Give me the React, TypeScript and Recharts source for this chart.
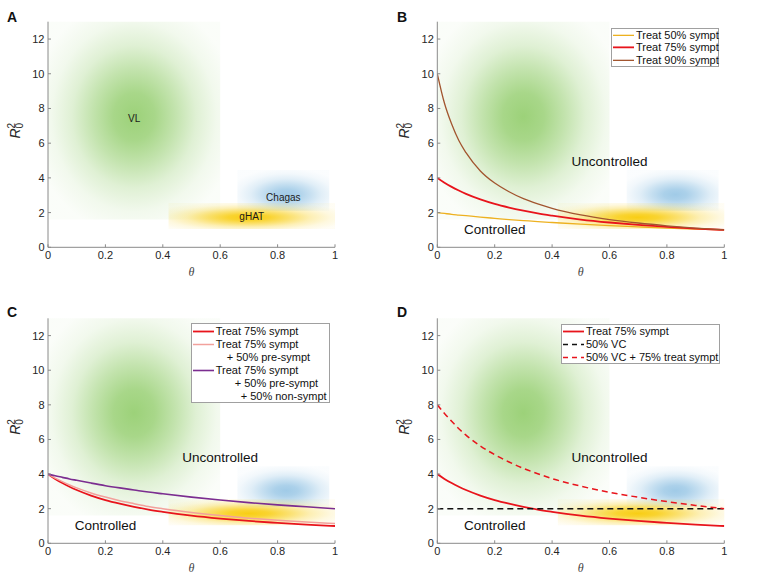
import * as React from 'react';
import {
  LineChart,
  Line,
  XAxis,
  YAxis,
  ReferenceArea,
  ReferenceDot,
  Legend,
  Label
} from 'recharts';

const FONT = "'Liberation Sans', Arial, Helvetica, sans-serif";
const AXIS_GREY = '#8a8a8a';
const TEXT_DARK = '#262626';

// theta grid and the threshold curves
const theta = [0, 0.025, 0.05, 0.075, 0.1, 0.15, 0.2, 0.25, 0.3, 0.35, 0.4, 0.5, 0.6, 0.7, 0.8, 0.9, 1];
const treat50 = [2.0, 1.95, 1.9, 1.86, 1.82, 1.74, 1.67, 1.6, 1.54, 1.48, 1.43, 1.33, 1.25, 1.18, 1.11, 1.05, 1.0];
const treat75 = [4.0, 3.72, 3.48, 3.27, 3.08, 2.76, 2.5, 2.29, 2.11, 1.95, 1.82, 1.6, 1.43, 1.29, 1.18, 1.08, 1.0];
const treat90 = [10.0, 8.3, 7.1, 6.15, 5.45, 4.4, 3.7, 3.2, 2.8, 2.5, 2.25, 1.87, 1.6, 1.4, 1.24, 1.11, 1.0];
const treat75Pre = [4.0, 3.77, 3.56, 3.37, 3.2, 2.91, 2.67, 2.46, 2.29, 2.13, 2.0, 1.78, 1.6, 1.45, 1.33, 1.23, 1.14];
const treat75PreNon = [4.0, 3.9, 3.81, 3.72, 3.64, 3.48, 3.33, 3.2, 3.08, 2.96, 2.86, 2.67, 2.5, 2.35, 2.22, 2.11, 2.0];
const vc50 = [2, 2, 2, 2, 2, 2, 2, 2, 2, 2, 2, 2, 2, 2, 2, 2, 2];
const vc50Treat75 = [8.0, 7.5, 7.05, 6.62, 6.25, 5.62, 5.12, 4.7, 4.33, 4.02, 3.74, 3.3, 2.95, 2.66, 2.41, 2.19, 2.0];

const xTicks = [0, 0.2, 0.4, 0.6, 0.8, 1];
const yTicks = [0, 2, 4, 6, 8, 10, 12];

// disease regions (theta range, R0^2 range) and their labels
const regionNames = ['VL', 'Chagas', 'gHAT'];
const regionX1 = [0, 0.66, 0.42];
const regionX2 = [0.6, 0.98, 1];
const regionY1 = [1.6, 2.1, 1.05];
const regionY2 = [13, 4.45, 2.55];
const regionLabelX = [0.3, 0.82, 0.71];
const regionLabelY = [7.45, 2.85, 1.76];

const zoneNames = ['Uncontrolled', 'Controlled'];
const zoneX = [0.468, 0.093];
const zoneY = [4.95, 1.0];

const data = theta.map((t, i) => ({
  theta: t,
  treat50: treat50[i],
  treat75: treat75[i],
  treat90: treat90[i],
  treat75Pre: treat75Pre[i],
  treat75PreNon: treat75PreNon[i],
  vc50: vc50[i],
  vc50Treat75: vc50Treat75[i]
}));

const blobStyle = [
  { color: '#97cf72', cx: 0.5, cy: 0.48, r: 0.6, max: 0.95 },
  { color: '#98c6e5', cx: 0.53, cy: 0.6, r: 0.64, max: 0.92 },
  { color: '#f8cb08', cx: 0.48, cy: 0.55, r: 0.62, max: 0.95 }
];
const gaussOffsets = [0, 0.2, 0.4, 0.6, 0.8, 1];
const gaussAlpha = [1, 0.88, 0.61, 0.32, 0.135, 0.045];

const seriesStyle: Record<string, any> = {
  treat50: { color: '#edb120', width: 1.3 },
  treat75: { color: '#e8141c', width: 1.8 },
  treat90: { color: '#a2552f', width: 1.3 },
  treat75Pre: { color: '#f2a19c', width: 1.5 },
  treat75PreNon: { color: '#7b2d90', width: 1.6 },
  vc50: { color: '#111111', width: 1.5, dash: '6 4' },
  vc50Treat75: { color: '#e8141c', width: 1.5, dash: '6 4' }
};

type LegendItem = { label: string; key?: string; indent?: number };

const legendB: LegendItem[] = [
  { label: 'Treat 50% sympt', key: 'treat50' },
  { label: 'Treat 75% sympt', key: 'treat75' },
  { label: 'Treat 90% sympt', key: 'treat90' }
];
const legendC: LegendItem[] = [
  { label: 'Treat 75% sympt', key: 'treat75' },
  { label: 'Treat 75% sympt', key: 'treat75Pre' },
  { label: '+ 50% pre-sympt', indent: 33 },
  { label: 'Treat 75% sympt', key: 'treat75PreNon' },
  { label: '+ 50% pre-sympt', indent: 41 },
  { label: '+ 50% non-sympt', indent: 47 }
];
const legendD: LegendItem[] = [
  { label: 'Treat 75% sympt', key: 'treat75' },
  { label: '50% VC', key: 'vc50' },
  { label: '50% VC + 75% treat sympt', key: 'vc50Treat75' }
];

function XTick({ x, y, payload }: any) {
  return (
    <g>
      <line x1={x} x2={x} y1={y - 4} y2={y - 7} stroke={AXIS_GREY} />
      <text x={x} y={y} dy="0.71em" textAnchor="middle" fontSize={11} fontFamily={FONT} fill={TEXT_DARK}>
        {payload.value}
      </text>
    </g>
  );
}

function YTick({ x, y, payload }: any) {
  return (
    <g>
      <line x1={x + 3.5} x2={x + 6.5} y1={y} y2={y} stroke={AXIS_GREY} />
      <text x={x} y={y} dy="0.36em" textAnchor="end" fontSize={11} fontFamily={FONT} fill={TEXT_DARK}>
        {payload.value}
      </text>
    </g>
  );
}

function XLabel({ viewBox }: any) {
  return (
    <text
      x={viewBox.x + viewBox.width / 2}
      y={viewBox.y + 24.5}
      textAnchor="middle"
      dominantBaseline="central"
      fontFamily="'Liberation Serif', 'DejaVu Serif', serif"
      fontStyle="italic"
      fontSize={12}
      fill="#444"
    >
      θ
    </text>
  );
}

function YLabel({ viewBox }: any) {
  const cx = viewBox.x + viewBox.width - 33;
  const cy = viewBox.y + viewBox.height / 2 - 9;
  return (
    <text
      transform={`rotate(-90 ${cx} ${cy})`}
      x={cx - 13}
      y={cy}
      dominantBaseline="central"
      fontFamily={FONT}
      fill={TEXT_DARK}
    >
      <tspan fontStyle="italic" fontSize={14}>R</tspan>
      <tspan fontSize={10} dy={-4}>2</tspan>
      <tspan fontSize={10} dx={-5.6} dy={8}>0</tspan>
    </text>
  );
}

function LegendBox({ items, width, height, padTop, rowH }: any) {
  return (
    <div
      style={{
        boxSizing: 'border-box',
        width,
        height,
        border: '1px solid #a0a0a0',
        background: '#fff',
        paddingTop: padTop,
        fontFamily: FONT,
        fontSize: 11,
        color: '#111'
      }}
    >
      {items.map((it: LegendItem, i: number) => {
        const st = it.key ? seriesStyle[it.key] : null;
        return (
          <div key={i} style={{ display: 'flex', alignItems: 'center', height: rowH, lineHeight: `${rowH}px` }}>
            {st ? (
              <svg width={22} height={rowH} style={{ display: 'block', flex: 'none' }}>
                <line
                  x1={1}
                  x2={22}
                  y1={rowH / 2}
                  y2={rowH / 2}
                  stroke={st.color}
                  strokeWidth={st.width}
                  strokeDasharray={st.dash ? '5 4' : undefined}
                />
              </svg>
            ) : (
              <span style={{ width: it.indent, flex: 'none' }} />
            )}
            <span style={{ marginLeft: 2, whiteSpace: 'nowrap' }}>{it.label}</span>
          </div>
        );
      })}
    </div>
  );
}

function Panel({ id, left, top, width, height, margin, lines, legend, showRegionLabels, showZones }: any) {
  return (
    <div style={{ position: 'absolute', left, top, width, height }}>
      <LineChart width={width} height={height} data={data} margin={margin}>
        <defs>
          {blobStyle.map((b, i) => (
            <radialGradient key={i} id={`${id}-blob-${i}`} cx={b.cx} cy={b.cy} r={b.r}>
              {gaussOffsets.map((o, j) => (
                <stop key={j} offset={o} stopColor={b.color} stopOpacity={gaussAlpha[j] * b.max} />
              ))}
            </radialGradient>
          ))}
        </defs>
        <XAxis
          type="number"
          dataKey="theta"
          domain={[0, 1]}
          allowDataOverflow
          ticks={xTicks}
          interval={0}
          height={25}
          tickSize={0}
          tickMargin={4}
          stroke={AXIS_GREY}
          tick={XTick}
        >
          <Label content={XLabel} />
        </XAxis>
        <YAxis
          type="number"
          domain={[0, 13]}
          allowDataOverflow
          ticks={yTicks}
          interval={0}
          width={30}
          tickSize={0}
          tickMargin={3.5}
          stroke={AXIS_GREY}
          tick={YTick}
        >
          <Label content={YLabel} />
        </YAxis>
        {regionNames.map((n, i) => (
          <ReferenceArea
            key={n}
            x1={regionX1[i]}
            x2={regionX2[i]}
            y1={regionY1[i]}
            y2={regionY2[i]}
            fill={`url(#${id}-blob-${i})`}
            fillOpacity={1}
            stroke="none"
          />
        ))}
        {showRegionLabels &&
          regionNames.map((n, i) => (
            <ReferenceDot
              key={`lab-${n}`}
              x={regionLabelX[i]}
              y={regionLabelY[i]}
              r={0}
              shape={(p: any) => (
                <text x={p.cx} y={p.cy} textAnchor="middle" dominantBaseline="central" fontSize={10} fontFamily={FONT} fill="#1a1a1a">
                  {n}
                </text>
              )}
            />
          ))}
        {showZones &&
          zoneNames.map((n, i) => (
            <ReferenceDot
              key={`zone-${n}`}
              x={zoneX[i]}
              y={zoneY[i]}
              r={0}
              shape={(p: any) => (
                <text x={p.cx} y={p.cy} dominantBaseline="central" fontSize={13.5} fontFamily={FONT} fill="#111">
                  {n}
                </text>
              )}
            />
          ))}
        {lines.map((k: string) => (
          <Line
            key={k}
            type="monotone"
            dataKey={k}
            stroke={seriesStyle[k].color}
            strokeWidth={seriesStyle[k].width}
            strokeDasharray={seriesStyle[k].dash}
            dot={false}
            activeDot={false}
            isAnimationActive={false}
          />
        ))}
        {legend && (
          <Legend
            layout="vertical"
            align="center"
            verticalAlign="middle"
            wrapperStyle={{ left: legend.left, top: legend.top, width: 'auto', height: 'auto' }}
            content={() => (
              <LegendBox items={legend.items} width={legend.width} height={legend.height} padTop={legend.padTop} rowH={legend.rowH} />
            )}
          />
        )}
      </LineChart>
    </div>
  );
}

function Letter({ text, left, top }: any) {
  return (
    <div
      style={{
        position: 'absolute',
        left,
        top,
        fontFamily: FONT,
        fontWeight: 'bold',
        fontSize: 14,
        lineHeight: '14px',
        color: '#111'
      }}
    >
      {text}
    </div>
  );
}

export default function App() {
  const topMargin = { top: 21.7, bottom: 14.7 };
  const bottomMargin = { top: 31.3, bottom: 6.7 };
  return (
    <div style={{ position: 'absolute', left: 0, top: 0, width: 760, height: 575, background: '#fff', overflow: 'hidden' }}>
      <Panel
        id="a"
        left={0}
        top={0}
        width={380}
        height={287}
        margin={{ ...topMargin, left: 18, right: 45 }}
        lines={[]}
        showRegionLabels
      />
      <Panel
        id="b"
        left={380}
        top={0}
        width={380}
        height={287}
        margin={{ ...topMargin, left: 27.3, right: 35.7 }}
        lines={['treat50', 'treat75', 'treat90']}
        showZones
        legend={{ items: legendB, left: 231, top: 27.7, width: 108, height: 39, padTop: 0, rowH: 12.7 }}
      />
      <Panel
        id="c"
        left={0}
        top={287}
        width={380}
        height={288}
        margin={{ ...bottomMargin, left: 18, right: 45 }}
        lines={['treat75', 'treat75Pre', 'treat75PreNon']}
        showZones
        legend={{ items: legendC, left: 190.7, top: 35.7, width: 139.5, height: 80, padTop: 1.8, rowH: 13 }}
      />
      <Panel
        id="d"
        left={380}
        top={287}
        width={380}
        height={288}
        margin={{ ...bottomMargin, left: 27.3, right: 35.7 }}
        lines={['treat75', 'vc50', 'vc50Treat75']}
        showZones
        legend={{ items: legendD, left: 181, top: 37.3, width: 158.5, height: 40, padTop: 0.2, rowH: 13 }}
      />
      <Letter text="A" left={7} top={10} />
      <Letter text="B" left={397} top={10} />
      <Letter text="C" left={7} top={305} />
      <Letter text="D" left={397} top={305} />
    </div>
  );
}
